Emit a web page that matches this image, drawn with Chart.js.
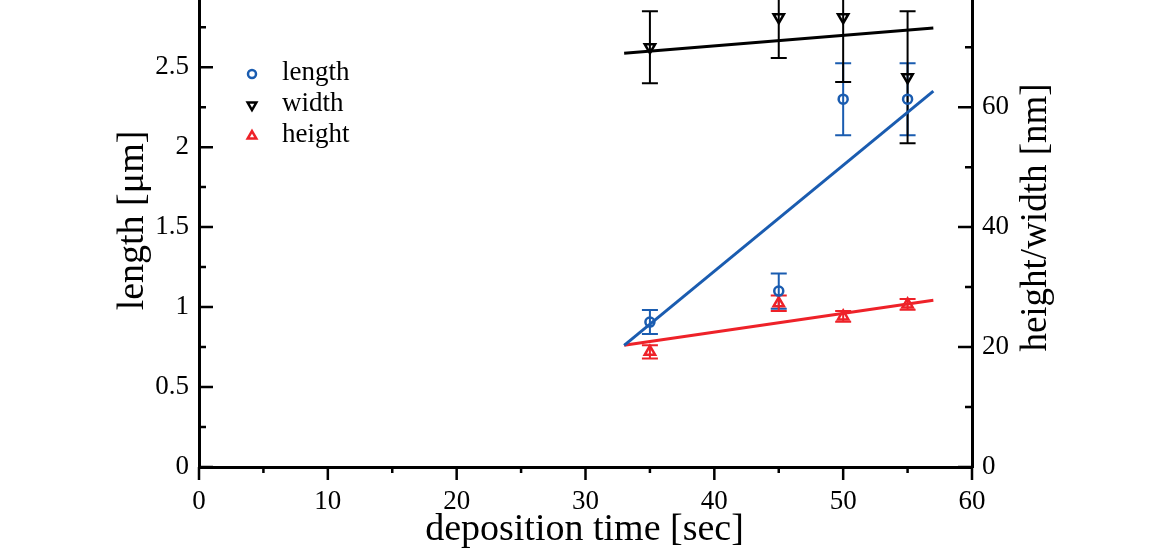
<!DOCTYPE html>
<html>
<head>
<meta charset="utf-8">
<script src="https://cdn.jsdelivr.net/npm/chart.js@4.4.1/dist/chart.umd.min.js"></script>
<style>
  html, body { margin: 0; padding: 0; background: #fff; }
</style>
</head>
<body>
<canvas id="myChart" width="1150" height="548"></canvas>
<script>
// deposition times (sec)
const times = [35, 45, 50, 55];

// length in um (left axis)
const lengthVals = [0.906, 1.1, 2.3, 2.3];
const lengthErr = [0.075, 0.11, 0.225, 0.225];

// width / height in nm (right axis)
const widthVals = [70, 75, 75, 65];
const widthErr = [6, 6.8, 10.8, 11];
const heightVals = [19.2, 27.3, 25.1, 27.1];
const heightErr = [1.1, 1.3, 0.9, 0.9];

// linear fits
const fitX = [33, 57];
const lengthFit = [0.76, 2.35];
const widthFit = [69, 73.2];
const heightFit = [20.3, 27.8];

const legendLabels = ["length", "width", "height"];
const axisTitles = ["deposition time [sec]", "length [μm]", "height/width [nm]"];

const BLUE = "#1a5cb0";
const RED = "#ee2229";
const BLACK = "#000000";
const SERIF = "'Liberation Serif', 'DejaVu Serif', serif";

function pts(xs, ys) {
  return xs.map(function (x, i) {
    return { x: x, y: ys[i] };
  });
}

function noPadding(scale) {
  scale.paddingTop = 0;
  scale.paddingBottom = 0;
  scale.paddingLeft = 0;
  scale.paddingRight = 0;
}

// error bars drawn before the markers
const errorBars = {
  id: "errorBars",
  beforeDatasetsDraw(chart) {
    const ctx = chart.ctx;
    const area = chart.chartArea;
    ctx.save();
    ctx.beginPath();
    ctx.rect(area.left, 0, area.right - area.left, area.bottom);
    ctx.clip();
    chart.data.datasets.forEach(function (ds, di) {
      if (!ds.errors) return;
      const meta = chart.getDatasetMeta(di);
      const scale = chart.scales[ds.yAxisID];
      ctx.strokeStyle = ds.borderColor;
      ctx.lineWidth = 2;
      ds.data.forEach(function (p, i) {
        const x = meta.data[i].x;
        const top = scale.getPixelForValue(p.y + ds.errors[i]);
        const bot = scale.getPixelForValue(p.y - ds.errors[i]);
        ctx.beginPath();
        ctx.moveTo(x, top);
        ctx.lineTo(x, bot);
        ctx.moveTo(x - 8, top);
        ctx.lineTo(x + 8, top);
        ctx.moveTo(x - 8, bot);
        ctx.lineTo(x + 8, bot);
        ctx.stroke();
      });
    });
    ctx.restore();
  },
};

// tick marks: left/right inward, bottom outward, with minor ticks
const tickMarks = {
  id: "tickMarks",
  afterDraw(chart) {
    const ctx = chart.ctx;
    const area = chart.chartArea;
    const x = chart.scales.x;
    const yL = chart.scales.yL;
    const yR = chart.scales.yR;
    ctx.save();
    ctx.strokeStyle = BLACK;
    ctx.lineWidth = 2.5;
    ctx.beginPath();
    for (let v = 0; v <= 60; v += 5) {
      const px = x.getPixelForValue(v);
      const len = v % 10 === 0 ? 13 : 6;
      ctx.moveTo(px, area.bottom);
      ctx.lineTo(px, area.bottom + len);
    }
    for (let v = 0; v <= yL.max; v += 0.25) {
      const py = yL.getPixelForValue(v);
      const len = Math.abs(v * 2 - Math.round(v * 2)) < 1e-6 ? 14 : 7;
      ctx.moveTo(area.left, py);
      ctx.lineTo(area.left + len, py);
    }
    for (let v = 0; v <= yR.max; v += 10) {
      const py = yR.getPixelForValue(v);
      const len = v % 20 === 0 ? 14 : 7;
      ctx.moveTo(area.right, py);
      ctx.lineTo(area.right - len, py);
    }
    ctx.stroke();
    ctx.restore();
  },
};

// axis titles (both y titles read bottom to top)
const titles = {
  id: "titles",
  afterDraw(chart) {
    const ctx = chart.ctx;
    const area = chart.chartArea;
    const midY = (area.top + area.bottom) / 2;
    ctx.save();
    ctx.fillStyle = BLACK;
    ctx.textAlign = "center";
    ctx.textBaseline = "middle";

    ctx.font = "38px " + SERIF;
    ctx.fillText(axisTitles[0], (area.left + area.right) / 2 - 1, area.bottom + 63);

    ctx.save();
    ctx.translate(area.left - 66, midY - 13);
    ctx.rotate(-Math.PI / 2);
    ctx.font = "38px " + SERIF;
    ctx.fillText(axisTitles[1], 0, 0);
    ctx.restore();

    ctx.save();
    ctx.translate(area.right + 64, midY - 16);
    ctx.rotate(-Math.PI / 2);
    ctx.font = "37px " + SERIF;
    ctx.fillText(axisTitles[2], 0, 0);
    ctx.restore();

    ctx.restore();
  },
};

// legend inside the plot
const insideLegend = {
  id: "insideLegend",
  afterDraw(chart) {
    const ctx = chart.ctx;
    const styles = [
      { pointStyle: "circle", radius: 4, rotation: 0, color: BLUE },
      { pointStyle: "triangle", radius: 5, rotation: 180, color: BLACK },
      { pointStyle: "triangle", radius: 5, rotation: 0, color: RED },
    ];
    ctx.save();
    ctx.font = "27px " + SERIF;
    ctx.textBaseline = "middle";
    legendLabels.forEach(function (label, i) {
      const y = 74 + i * 31;
      const s = styles[i];
      ctx.strokeStyle = s.color;
      ctx.fillStyle = "rgba(0,0,0,0)";
      ctx.lineWidth = 2.5;
      Chart.helpers.drawPoint(ctx, {
        pointStyle: s.pointStyle,
        radius: s.radius,
        rotation: s.rotation,
        borderWidth: 2.5,
      }, 252, y);
      ctx.fillStyle = BLACK;
      ctx.fillText(label, 282, y - 1);
    });
    ctx.restore();
  },
};

const data = {
  datasets: [
    {
      type: "line",
      label: "length fit",
      data: pts(fitX, lengthFit),
      yAxisID: "yL",
      borderColor: BLUE,
      borderWidth: 3,
      pointRadius: 0,
    },
    {
      type: "line",
      label: "width fit",
      data: pts(fitX, widthFit),
      yAxisID: "yR",
      borderColor: BLACK,
      borderWidth: 3,
      pointRadius: 0,
    },
    {
      type: "line",
      label: "height fit",
      data: pts(fitX, heightFit),
      yAxisID: "yR",
      borderColor: RED,
      borderWidth: 3,
      pointRadius: 0,
    },
    {
      label: "length",
      data: pts(times, lengthVals),
      errors: lengthErr,
      yAxisID: "yL",
      borderColor: BLUE,
      backgroundColor: "rgba(0,0,0,0)",
      pointStyle: "circle",
      pointRadius: 4.5,
      borderWidth: 2.5,
    },
    {
      label: "width",
      data: pts(times, widthVals),
      errors: widthErr,
      yAxisID: "yR",
      borderColor: BLACK,
      backgroundColor: "rgba(0,0,0,0)",
      pointStyle: "triangle",
      rotation: 180,
      pointRadius: 6,
      borderWidth: 2.5,
    },
    {
      label: "height",
      data: pts(times, heightVals),
      errors: heightErr,
      yAxisID: "yR",
      borderColor: RED,
      backgroundColor: "rgba(0,0,0,0)",
      pointStyle: "triangle",
      pointRadius: 6,
      borderWidth: 2.5,
    },
  ],
};

const tickFont = { family: SERIF, size: 27 };
const fmt = function (v) {
  return String(Math.round(v * 100) / 100);
};

const config = {
  type: "scatter",
  data,
  options: {
    responsive: false,
    animation: false,
    layout: { padding: 0, autoPadding: false },
    plugins: {
      legend: { display: false },
      tooltip: { enabled: false },
    },
    scales: {
      x: {
        type: "linear",
        position: "bottom",
        min: 0,
        max: 60,
        grid: { display: false },
        border: { display: true, color: BLACK, width: 3 },
        ticks: { stepSize: 10, font: tickFont, color: BLACK, padding: 11, maxRotation: 0, callback: fmt },
        afterFit(scale) {
          scale.height = 81;
          noPadding(scale);
        },
      },
      yL: {
        type: "linear",
        position: "left",
        min: 0,
        max: 2.92,
        grid: { display: false },
        border: { display: true, color: BLACK, width: 3 },
        ticks: { stepSize: 0.5, includeBounds: false, font: tickFont, color: BLACK, padding: 2, callback: fmt },
        afterFit(scale) {
          scale.width = 199;
          noPadding(scale);
        },
      },
      yR: {
        type: "linear",
        position: "right",
        min: 0,
        max: 77.87,
        grid: { display: false },
        border: { display: true, color: BLACK, width: 3 },
        ticks: { stepSize: 20, includeBounds: false, font: tickFont, color: BLACK, padding: 2, callback: fmt },
        afterFit(scale) {
          scale.width = 178;
          noPadding(scale);
        },
      },
    },
  },
  plugins: [errorBars, tickMarks, titles, insideLegend],
};

const myChart = new Chart(document.getElementById("myChart"), config);
</script>
</body>
</html>
